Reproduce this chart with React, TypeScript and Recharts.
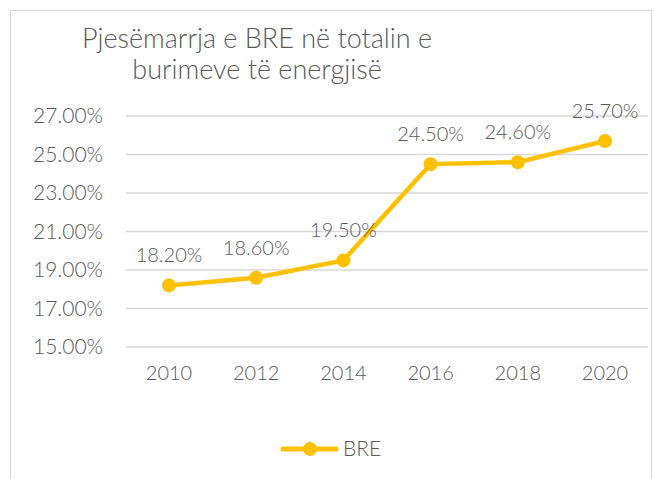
import { LineChart, Line, XAxis, YAxis, CartesianGrid, LabelList, Legend } from 'recharts';

const years = ['2010', '2012', '2014', '2016', '2018', '2020'];
const breShare = [0.182, 0.186, 0.195, 0.245, 0.246, 0.257];
const yTicks = [0.15, 0.17, 0.19, 0.21, 0.23, 0.25, 0.27];
const titleLines = ['Pjesëmarrja e BRE në totalin e', 'burimeve të energjisë'];
const seriesName = 'BRE';

const data = years.map((year, i) => ({ year, value: breShare[i] }));

const FONT = 'Lato, sans-serif';
const TEXT = '#595959';
const GOLD = '#FFC000';

const pct = (v: number) => `${(v * 100).toFixed(2)}%`;

function LegendBox() {
  return (
    <svg width={140} height={26} style={{ display: 'block', overflow: 'visible' }}>
      <line x1={3} y1={12} x2={56} y2={12} stroke={GOLD} strokeWidth={5} strokeLinecap="round" />
      <circle cx={30} cy={12} r={7} fill={GOLD} />
      <text x={63} y={19} fontSize={21} fontWeight={300} fill={TEXT} fontFamily={FONT}>
        {seriesName}
      </text>
    </svg>
  );
}

export default function App() {
  return (
    <div style={{ position: 'absolute', left: 0, top: 0, width: 654, height: 479, background: '#fff', overflow: 'hidden' }}>
      <div
        style={{
          position: 'absolute', left: 10, top: 10, width: 640, height: 500,
          border: '1px solid #d9d9d9',
        }}
      />
      <div
        style={{
          position: 'absolute', left: 7, width: 500, top: 22, textAlign: 'center', whiteSpace: 'nowrap',
          fontFamily: FONT, fontWeight: 300, fontSize: 27, lineHeight: '31px', color: TEXT,
        }}
      >
        {titleLines.map((t) => <div key={t}>{t}</div>)}
      </div>
      <LineChart width={654} height={479} data={data} margin={{ top: 116, right: 6, left: 0, bottom: 0 }}>
        <CartesianGrid vertical={false} stroke="#d9d9d9" strokeWidth={1.3} />
        <XAxis
          dataKey="year"
          height={132}
          padding={{ left: 43, right: 43 }}
          axisLine={false}
          tickLine={false}
          tickSize={0}
          tickMargin={19}
          tick={{ fill: TEXT, fontSize: 20, fontWeight: 300, fontFamily: FONT }}
        />
        <YAxis
          width={126}
          domain={[0.15, 0.27]}
          ticks={yTicks}
          tickFormatter={pct}
          axisLine={false}
          tickLine={false}
          tickSize={0}
          tickMargin={23}
          tick={{ fill: TEXT, fontSize: 21, fontWeight: 300, fontFamily: FONT }}
        />
        <Legend
          verticalAlign="middle"
          align="center"
          content={() => <LegendBox />}
          wrapperStyle={{ left: 280, top: 437, width: 140, height: 26 }}
        />
        <Line
          type="linear"
          dataKey="value"
          name={seriesName}
          stroke={GOLD}
          strokeWidth={4.5}
          dot={{ r: 7, fill: GOLD, stroke: GOLD, strokeWidth: 0 }}
          isAnimationActive={false}
        >
          <LabelList
            dataKey="value"
            position="top"
            offset={23}
            formatter={(v: number) => pct(v)}
            fill={TEXT}
            fontSize={20}
            fontWeight={300}
            fontFamily={FONT}
          />
        </Line>
      </LineChart>
    </div>
  );
}
